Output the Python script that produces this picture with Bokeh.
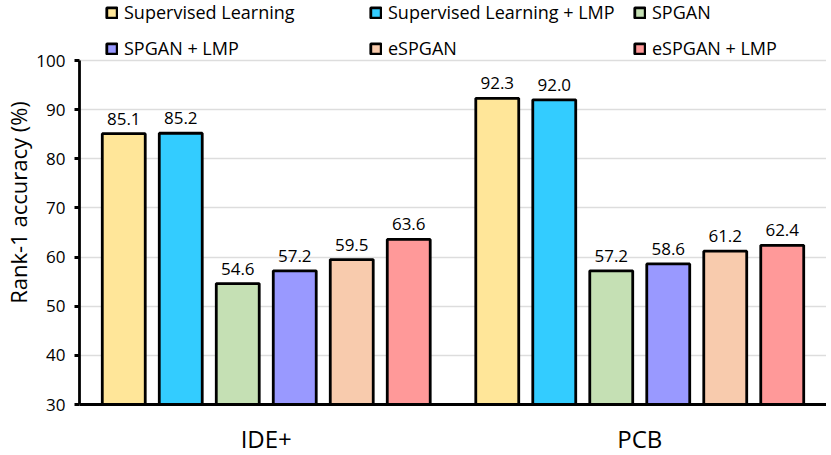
from bokeh.plotting import figure
from bokeh.models import ColumnDataSource, FactorRange, Legend, LegendItem, Range1d, FixedTicker
from bokeh.transform import dodge
from bokeh.core.properties import value
from bokeh.embed import file_html
from bokeh.resources import INLINE

groups = ["IDE+", "PCB"]
methods = ["Supervised Learning", "Supervised Learning + LMP", "SPGAN",
           "SPGAN + LMP", "eSPGAN", "eSPGAN + LMP"]
colors = ["#FFE699", "#33CCFF", "#C5E0B4", "#9999FF", "#F8CBAD", "#FF9999"]
values = {
    "Supervised Learning": [85.1, 92.3],
    "Supervised Learning + LMP": [85.2, 92.0],
    "SPGAN": [54.6, 57.2],
    "SPGAN + LMP": [57.2, 58.6],
    "eSPGAN": [59.5, 61.2],
    "eSPGAN + LMP": [63.6, 62.4],
}
y_ticks = [30, 40, 50, 60, 70, 80, 90, 100]
y_min, y_max = 30, 100

FONT = "Open Sans"

# frame extends above the 100 line to hold the legend
FRAME_H = 404
px_per_unit = 344 / (y_max - y_min)
y_top = y_min + FRAME_H / px_per_unit

p = figure(x_range=FactorRange(factors=groups, range_padding=0),
           y_range=Range1d(y_min, y_top),
           frame_width=747, frame_height=FRAME_H,
           min_border_left=10, min_border_top=0, min_border_bottom=10, min_border_right=0,
           output_backend="svg", toolbar_location=None)
p.outline_line_color = None

step = 0.1526
bw = 0.115
renderers = []
for i, m in enumerate(methods):
    src = ColumnDataSource(dict(g=groups, v=values[m], t=[f"{v:.1f}" for v in values[m]]))
    off = (i - 2.5) * step
    r = p.vbar(x=dodge("g", off, range=p.x_range), top="v", bottom=y_min, width=bw, source=src,
               fill_color=colors[i], line_color="black", line_width=2.8)
    renderers.append(r)
    p.text(x=dodge("g", off, range=p.x_range), y="v", text="t", source=src,
           text_align="center", text_baseline="bottom", y_offset=-9,
           text_font=value(FONT), text_font_size="17px", text_color="#000000")

# axes
p.yaxis.ticker = FixedTicker(ticks=y_ticks)
p.yaxis.bounds = (y_min, y_max)
p.yaxis.axis_label = "Rank-1 accuracy (%)"
p.yaxis.axis_label_text_font = FONT
p.yaxis.axis_label_text_font_size = "22px"
p.yaxis.axis_label_text_font_style = "normal"
p.yaxis.axis_label_text_color = "black"
p.yaxis.axis_label_standoff = 0
p.yaxis.major_label_text_font = FONT
p.yaxis.major_label_text_font_size = "17px"
p.yaxis.major_label_text_color = "black"
p.yaxis.major_label_standoff = 9
p.yaxis.axis_line_width = 2.8
p.yaxis.axis_line_color = "black"
p.yaxis.major_tick_line_width = 2.8
p.yaxis.major_tick_out = 5
p.yaxis.major_tick_in = 0
p.yaxis.minor_tick_line_color = None

p.xaxis.major_label_text_font = FONT
p.xaxis.major_label_text_font_size = "24px"
p.xaxis.major_label_text_color = "black"
p.xaxis.major_label_standoff = 11
p.xaxis.axis_line_width = 2.8
p.xaxis.axis_line_color = "black"
p.xaxis.major_tick_line_color = None
p.xaxis.minor_tick_line_color = None

p.xgrid.grid_line_color = None
p.ygrid.grid_line_color = "#DDDDDD"
p.ygrid.grid_line_width = 1.5
p.ygrid.bounds = (y_min, y_max)

legend = Legend(items=[LegendItem(label=m, renderers=[r]) for m, r in zip(methods, renderers)],
                location=(26, 344), orientation="horizontal", ncols=3,
                padding=0, margin=0, spacing=12,
                glyph_width=13, glyph_height=13, label_standoff=6,
                label_width=233, label_height=24,
                label_text_font=FONT, label_text_font_size="18px", label_text_color="black",
                border_line_alpha=0, background_fill_alpha=0)
p.add_layout(legend, "center")

open("out.html", "w").write(file_html(p, INLINE))
